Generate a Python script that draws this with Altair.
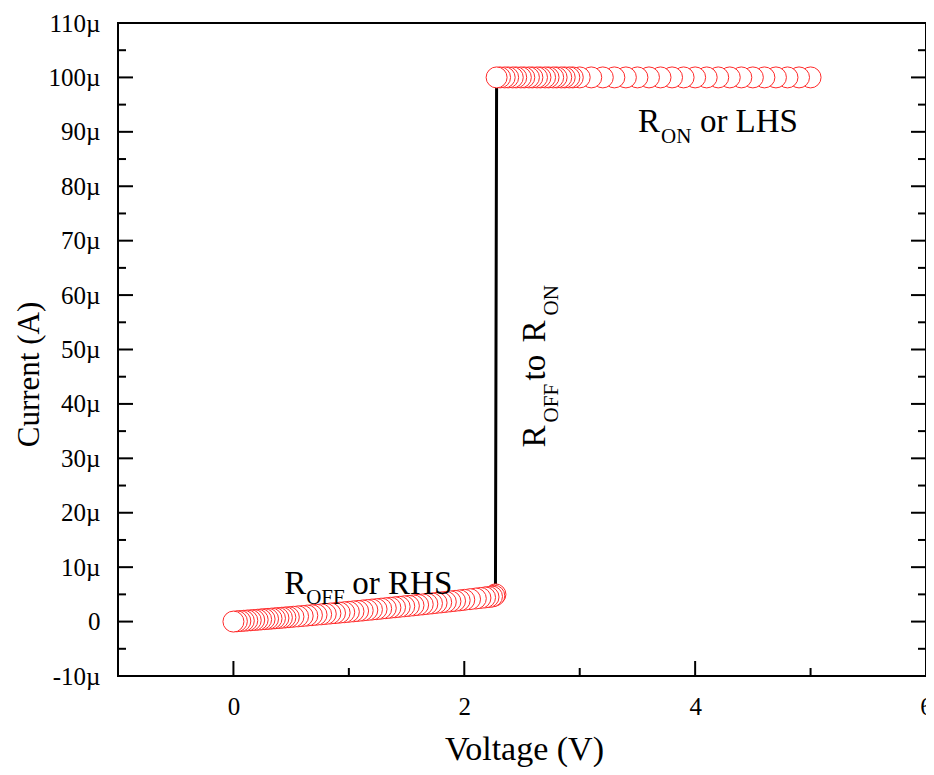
import altair as alt
import pandas as pd

# ---------------- data ----------------
v_off = [0.00, 0.03, 0.06, 0.09, 0.12, 0.15, 0.18, 0.21, 0.24, 0.27, 0.30, 0.33,
         0.36, 0.39, 0.42, 0.45, 0.48, 0.52, 0.56, 0.60, 0.64, 0.68, 0.72, 0.76,
         0.80, 0.84, 0.88, 0.92, 0.96, 1.00, 1.04, 1.08, 1.12, 1.16, 1.20, 1.24,
         1.28, 1.32, 1.36, 1.40, 1.44, 1.48, 1.52, 1.56, 1.60, 1.64, 1.68, 1.72,
         1.76, 1.80, 1.84, 1.88, 1.92, 1.96, 2.00, 2.05, 2.10, 2.14, 2.18, 2.21,
         2.24, 2.26, 2.27]
i_off = [0.00, 0.05, 0.10, 0.15, 0.20, 0.24, 0.29, 0.34, 0.40, 0.45, 0.50, 0.55,
         0.60, 0.65, 0.71, 0.76, 0.81, 0.89, 0.96, 1.03, 1.11, 1.18, 1.26, 1.33,
         1.41, 1.49, 1.56, 1.64, 1.72, 1.80, 1.88, 1.96, 2.04, 2.13, 2.21, 2.29,
         2.38, 2.46, 2.55, 2.63, 2.72, 2.81, 2.89, 2.98, 3.07, 3.16, 3.25, 3.34,
         3.44, 3.53, 3.62, 3.72, 3.81, 3.90, 4.00, 4.12, 4.24, 4.34, 4.44, 4.51,
         4.60, 4.75, 5.00]

v_on = [2.28, 2.31, 2.35, 2.38, 2.42, 2.45, 2.49, 2.52, 2.56, 2.59, 2.63, 2.66,
        2.70, 2.73, 2.77, 2.80, 2.84, 2.87, 2.91, 2.94, 3.00, 3.10, 3.20, 3.30,
        3.40, 3.50, 3.60, 3.70, 3.80, 3.90, 4.00, 4.10, 4.20, 4.30, 4.40, 4.50,
        4.60, 4.70, 4.80, 4.90, 5.00]
i_on = [100.0] * len(v_on)

x_major = [0, 2, 4, 6]
x_minor = [1, 3, 5]
y_major = [-10, 0, 10, 20, 30, 40, 50, 60, 70, 80, 90, 100, 110]
y_minor = [-5, 5, 15, 25, 35, 45, 55, 65, 75, 85, 95, 105]

# annotation texts
main_labels = ["R", "or RHS", "R", "or LHS"]
main_x = [0.44, 1.03, 3.506, 4.041]
main_y = [5.15, 5.15, 89.94, 89.94]
sub_labels = ["OFF", "ON"]
sub_x = [0.63, 3.705]
sub_y = [3.31, 87.87]
vmain_labels = ["R", "to", "R"]
vmain_x = [2.70, 2.70, 2.70]
vmain_y = [32.0, 44.3, 51.3]
vsub_labels = ["OFF", "ON"]
vsub_x = [2.81, 2.81]
vsub_y = [36.6, 56.25]

# ---------------- chart ----------------
W, H = 808, 653
FONT = "Liberation Serif"

xs = alt.Scale(domain=[-1, 6], nice=False, zero=False)
ys = alt.Scale(domain=[-10, 110], nice=False, zero=False)

xaxis = alt.Axis(values=x_major, title="Voltage (V)", format="d", domain=False,
                 ticks=False, tickSize=0, grid=False, labelFont=FONT, labelFontSize=25,
                 labelColor="black", labelPadding=18, labelFlush=False,
                 titleFont=FONT, titleFontSize=34, titleFontWeight="normal",
                 titleColor="black", titleX=406, titleY=83, titleAlign="center",
                 titleBaseline="alphabetic")
yaxis = alt.Axis(values=y_major, title="Current (A)",
                 labelExpr="datum.value == 0 ? '0' : datum.value + 'µ'",
                 domain=False, ticks=False, tickSize=0, grid=False, labelFont=FONT,
                 labelFontSize=25, labelColor="black", labelPadding=18, labelFlush=False,
                 titleFont=FONT, titleFontSize=31, titleFontWeight="normal",
                 titleColor="black", titleAngle=270, titleX=-80, titleY=351,
                 titleAlign="center", titleBaseline="alphabetic")


def X(field="x"):
    return alt.X(f"{field}:Q", scale=xs, axis=xaxis)


def Y(field="y"):
    return alt.Y(f"{field}:Q", scale=ys, axis=yaxis)


df = pd.DataFrame({"x": v_off + v_on, "y": i_off + i_on})

line = alt.Chart(df).mark_line(color="black", strokeWidth=3).encode(
    x=X(), y=Y(), order=alt.Order("x:Q"))

points = alt.Chart(df).mark_point(shape="circle", filled=True, fill="white",
                                  stroke="#ff2a2a", strokeWidth=1, size=440,
                                  opacity=1).encode(
    x=X(), y=Y(), order=alt.Order("x:Q", sort="descending"))

tick_col = "black"
ly_major = alt.Chart(pd.DataFrame({"y": y_major})).mark_rule(color=tick_col, strokeWidth=2).encode(
    y=Y(), x=alt.value(0), x2=alt.value(15))
ly_minor = alt.Chart(pd.DataFrame({"y": y_minor})).mark_rule(color=tick_col, strokeWidth=2).encode(
    y=Y(), x=alt.value(0), x2=alt.value(8))
ry_major = alt.Chart(pd.DataFrame({"y": y_major})).mark_rule(color=tick_col, strokeWidth=2).encode(
    y=Y(), x=alt.value(W - 15), x2=alt.value(W))
ry_minor = alt.Chart(pd.DataFrame({"y": y_minor})).mark_rule(color=tick_col, strokeWidth=2).encode(
    y=Y(), x=alt.value(W - 8), x2=alt.value(W))
bx_major = alt.Chart(pd.DataFrame({"x": x_major})).mark_rule(color=tick_col, strokeWidth=2).encode(
    x=X(), y=alt.value(H - 15), y2=alt.value(H))
bx_minor = alt.Chart(pd.DataFrame({"x": x_minor})).mark_rule(color=tick_col, strokeWidth=2).encode(
    x=X(), y=alt.value(H - 8), y2=alt.value(H))


def txt(labels, xv, yv, size, angle):
    d = pd.DataFrame({"x": xv, "y": yv, "t": labels})
    return alt.Chart(d).mark_text(font=FONT, fontSize=size, angle=angle, align="left",
                                  baseline="alphabetic", color="black").encode(
        x=X(), y=Y(), text="t:N")


t1 = txt(main_labels, main_x, main_y, 33, 0)
t2 = txt(sub_labels, sub_x, sub_y, 21, 0)
t3 = txt(vmain_labels, vmain_x, vmain_y, 33, 270)
t4 = txt(vsub_labels, vsub_x, vsub_y, 21, 270)

chart = alt.layer(ly_major, ly_minor, ry_major, ry_minor, bx_major, bx_minor,
                  line, points, t1, t2, t3, t4).properties(
    width=W, height=H,
    autosize=alt.AutoSizeParams(type="none"),
    padding={"left": 110, "top": 15, "right": 0, "bottom": 91},
).configure_view(stroke="black", strokeWidth=2)

chart.save("out.html", embed_options={"renderer": "svg", "actions": False})
